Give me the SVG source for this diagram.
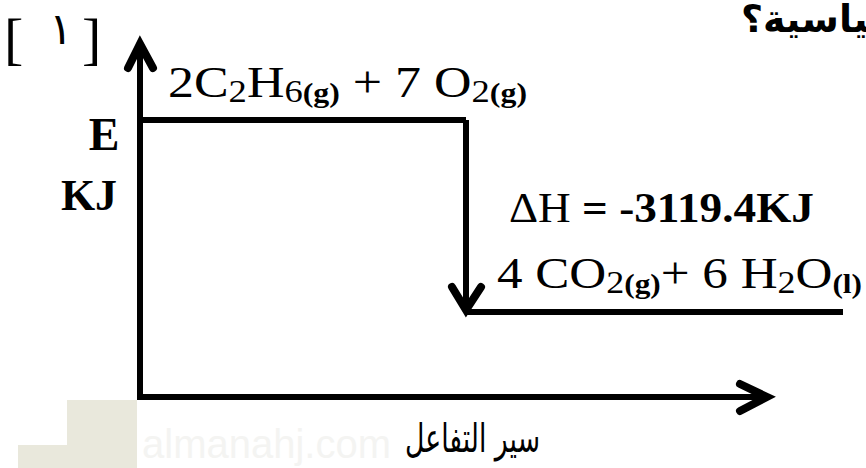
<svg xmlns="http://www.w3.org/2000/svg" width="866" height="468" viewBox="0 0 866 468">
<style>
.ln{fill:none;stroke:#000;stroke-width:6;stroke-linecap:butt}
.hd{fill:none;stroke:#000;stroke-width:8;stroke-linejoin:miter;stroke-linecap:round}
.ser{font-family:"Liberation Serif","Times New Roman",serif;fill:#000}
.b{font-weight:bold}
.ar{font-family:"DejaVu Sans","Noto Sans",sans-serif;fill:#000}
</style>
<rect width="866" height="468" fill="#fff"/>
<g id="watermark">
<path d="M67,400 H137 V468 H18 V445 H67 Z" fill="#e9e8dc"/>
<text x="142" y="458" font-family="Liberation Sans, Arial, sans-serif" font-size="40" fill="#f4f4f2">almanahj.com</text>
</g>
<g id="question-number"><text class="ser" y="58" font-size="58"><tspan x="4">[</tspan><tspan x="82">]</tspan></text><text class="ser" x="49" y="44" font-size="44">١</text></g>
<g id="question-tail"><text class="ar b" x="741" y="32" font-size="38">قياسية؟</text></g>
<g id="axis-label-y"><text class="ser b" x="104" y="150" font-size="46" text-anchor="middle">E</text><text class="ser b" x="89" y="210" font-size="44" text-anchor="middle">KJ</text></g>
<g id="axis-label-x"><text class="ar" x="405" y="452" font-size="40" textLength="135" lengthAdjust="spacingAndGlyphs">سير التفاعل</text></g>
<g id="reactants">
<path class="ln" d="M140,120 H466"/>
<text class="ser" x="168" y="97" font-size="44" textLength="359" lengthAdjust="spacingAndGlyphs">2C<tspan font-size="31" dy="5">2</tspan><tspan dy="-5">H</tspan><tspan font-size="31" dy="5">6</tspan><tspan font-size="27" class="b">(g)</tspan><tspan dy="-5"> + 7 O</tspan><tspan font-size="31" dy="5">2</tspan><tspan font-size="27" class="b">(g)</tspan></text>
</g>
<g id="products">
<path class="ln" d="M466,312 H843"/>
<text class="ser" x="497" y="288" font-size="44" textLength="365" lengthAdjust="spacingAndGlyphs">4 CO<tspan font-size="31" dy="5">2</tspan><tspan font-size="27" class="b">(g)</tspan><tspan dy="-5">+ 6 H</tspan><tspan font-size="31" dy="5">2</tspan><tspan dy="-5">O</tspan><tspan font-size="27" class="b" dy="5">(l)</tspan></text>
</g>
<g id="delta-h"><text class="ser" x="509" y="222" font-size="42" textLength="305" lengthAdjust="spacingAndGlyphs">ΔH <tspan class="b">= -3119.4KJ</tspan></text></g>
<g id="connectors">
<path class="ln" d="M140,44 V397 H768"/>
<path class="hd" d="M128,68 L140,44 L153,68"/>
<path class="hd" d="M740,384 L767,397 L740,411"/>
<path class="ln" d="M466,120 V310"/>
<path class="hd" d="M452,287 L466,310 L481,287"/>
</g>
</svg>
